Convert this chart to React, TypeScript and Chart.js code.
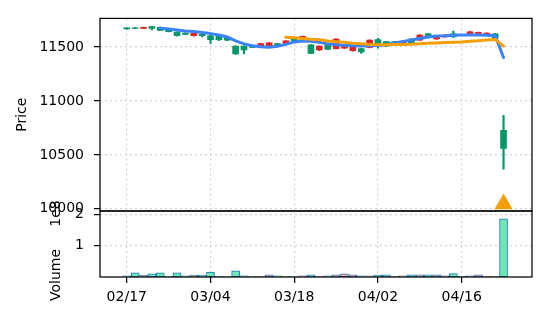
import React, { useEffect, useRef } from 'react';
import { Chart, registerables } from 'chart.js';

Chart.register(...registerables);

const W = 546;
const H = 322;
const FONT = 'DejaVu Sans';

// ---- data ----
const tickPositions = [0, 10, 20, 30, 40];
const tickLabels = ['02/17', '03/04', '03/18', '04/02', '04/16'];

const opens = [
  11669, 11673, 11684, 11673, 11655, 11642, 11605, 11618, 11630, 11605,
  11569, 11569, 11564, 11436, 11473, 11496, 11533, 11539, 11521, 11557,
  11557, 11600, 11442, 11509, 11478, 11575, 11509, 11509, 11455, 11564,
  11509, 11509, 11521, 11551, 11539, 11612, 11587, 11594, 11612, 11594,
  11608, 11642, 11636, 11630, 11582, 10560,
];
const highs = [
  11680, 11681, 11686, 11693, 11686, 11663, 11641, 11632, 11633, 11620,
  11608, 11603, 11585, 11512, 11512, 11511, 11536, 11542, 11535, 11560,
  11583, 11603, 11524, 11512, 11524, 11578, 11512, 11512, 11488, 11567,
  11582, 11554, 11554, 11554, 11578, 11615, 11627, 11597, 11615, 11648,
  11618, 11645, 11639, 11633, 11627, 10866,
];
const lows = [
  11667, 11671, 11671, 11660, 11652, 11640, 11602, 11615, 11602, 11594,
  11533, 11560, 11560, 11432, 11436, 11494, 11506, 11506, 11519, 11530,
  11555, 11572, 11440, 11466, 11475, 11482, 11488, 11463, 11442, 11493,
  11491, 11506, 11518, 11530, 11536, 11561, 11584, 11572, 11591, 11590,
  11605, 11615, 11615, 11609, 11579, 10369,
];
const closes = [
  11678, 11679, 11673, 11691, 11684, 11660, 11639, 11630, 11605, 11618,
  11605, 11600, 11582, 11509, 11509, 11509, 11509, 11509, 11533, 11533,
  11580, 11575, 11521, 11473, 11521, 11485, 11491, 11466, 11485, 11496,
  11569, 11551, 11551, 11533, 11575, 11564, 11624, 11575, 11594, 11624,
  11615, 11618, 11618, 11612, 11624, 10727,
];
// volume in units of 1e8
const volumes = [
  0.04, 0.13, 0.06, 0.10, 0.13, 0.02, 0.13, 0.04, 0.06, 0.06,
  0.16, 0.02, 0.01, 0.20, 0.04, 0.01, 0.01, 0.07, 0.04, 0.01,
  0.01, 0.04, 0.07, 0.02, 0.04, 0.07, 0.10, 0.07, 0.04, 0.04,
  0.06, 0.07, 0.01, 0.04, 0.07, 0.07, 0.07, 0.07, 0.04, 0.11,
  0.02, 0.04, 0.07, 0.02, 0.01, 1.86,
];
const maShort = [
  null, null, null, null, 11675, 11668, 11659, 11650, 11644, 11635,
  11625, 11612, 11594, 11557, 11530, 11512, 11503, 11498, 11507, 11525,
  11548, 11557, 11553, 11545, 11530, 11521, 11516, 11512, 11509, 11512,
  11515, 11525, 11539, 11553, 11566, 11580, 11594, 11603, 11605, 11609,
  11612, 11612, 11612, 11609, 11605, 11403,
];
const maLong = [
  null, null, null, null, null, null, null, null, null, null,
  null, null, null, null, null, null, null, null, null, 11591,
  11586, 11580, 11573, 11567, 11557, 11550, 11544, 11536, 11530, 11525,
  11521, 11521, 11523, 11525, 11527, 11532, 11536, 11539, 11543, 11545,
  11548, 11553, 11559, 11566, 11571, 11509,
];
const signalIndex = [45];
const signalPrice = [10045];

const priceTicks = [10000, 10500, 11000, 11500];
const volumeTicks = [1, 2];

// ---- styles ----
const GREEN = '#059669';
const RED = '#dc2626';
const VOL_UP = '#6ee7b7';
const VOL_DOWN = '#fca5a5';
const EDGE = '#1f77b4';
const BLUE = '#3b82f6';
const ORANGE = '#f59e0b';
const GRID = '#d4d4d4';
const X_MIN = -3.2;
const X_MAX = 48.4;

const boxPlugin = {
  id: 'box',
  afterDraw(chart: any) {
    const { ctx, chartArea: a } = chart;
    ctx.save();
    ctx.strokeStyle = '#000';
    ctx.lineWidth = 1.25;
    ctx.strokeRect(a.left, a.top, a.right - a.left, a.bottom - a.top);
    ctx.restore();
  },
};

const tickFont = { family: FONT, size: 14 };

export default function App() {
  const priceRef = useRef<HTMLCanvasElement>(null);
  const volRef = useRef<HTMLCanvasElement>(null);

  useEffect(() => {
    const idx = closes.map((_, i) => i);
    const isUp = (i: number) => closes[i] >= opens[i];
    const candleColors = idx.map((i) => (isUp(i) ? GREEN : RED));

    const priceChart = new Chart(priceRef.current as HTMLCanvasElement, {
      type: 'bar',
      data: {
        datasets: [
          {
            type: 'line',
            data: signalIndex.map((x, k) => ({ x, y: signalPrice[k] })),
            showLine: false,
            pointStyle: 'triangle',
            pointRadius: 10.5,
            pointBackgroundColor: ORANGE,
            pointBorderColor: ORANGE,
            pointBorderWidth: 0,
            order: 0,
            clip: false,
          } as any,
          {
            type: 'line',
            data: idx.filter((i) => maLong[i] != null).map((i) => ({ x: i, y: maLong[i] })),
            borderColor: ORANGE,
            borderWidth: 3,
            pointRadius: 0,
            borderJoinStyle: 'round',
            borderCapStyle: 'round',
            order: 1,
          } as any,
          {
            type: 'line',
            data: idx.filter((i) => maShort[i] != null).map((i) => ({ x: i, y: maShort[i] })),
            borderColor: BLUE,
            borderWidth: 3,
            pointRadius: 0,
            borderJoinStyle: 'round',
            borderCapStyle: 'round',
            order: 2,
          } as any,
          {
            type: 'bar',
            data: idx.map((i) => ({ x: i, y: [opens[i], closes[i]] })),
            backgroundColor: candleColors,
            borderWidth: 0,
            barThickness: 6,
            grouped: false,
            order: 3,
          } as any,
          {
            type: 'bar',
            data: idx.map((i) => ({ x: i, y: [lows[i], highs[i]] })),
            backgroundColor: candleColors,
            borderWidth: 0,
            barThickness: 1.5,
            grouped: false,
            order: 4,
          } as any,
        ],
      },
      options: {
        responsive: false,
        animation: false,
        layout: { padding: { top: 15, right: 14, bottom: 111, left: 0 } },
        plugins: { legend: { display: false }, tooltip: { enabled: false } },
        scales: {
          x: {
            type: 'linear',
            min: X_MIN,
            max: X_MAX,
            offset: false,
            afterBuildTicks: (s: any) => {
              s.ticks = tickPositions.map((v) => ({ value: v }));
            },
            afterFit: (s: any) => {
              s.height = 0;
            },
            ticks: { display: false },
            grid: { offset: false, color: GRID, lineWidth: 1.2, drawTicks: false },
            border: { display: false, dash: [2, 3] },
          },
          y: {
            type: 'linear',
            min: 9980,
            max: 11766,
            afterBuildTicks: (s: any) => {
              s.ticks = priceTicks.map((v) => ({ value: v }));
            },
            afterFit: (s: any) => {
              s.width = 100;
            },
            ticks: { color: '#000', font: tickFont, padding: 10, callback: (v: any) => String(v) },
            grid: { color: GRID, lineWidth: 1.2, tickColor: '#000', tickLength: 6, tickWidth: 1.25 },
            border: { display: false, dash: [2, 3] },
            title: {
              display: true,
              text: 'Price',
              color: '#000',
              font: tickFont,
              padding: { top: 13.6, bottom: 0 },
            },
          },
        },
      } as any,
      plugins: [boxPlugin],
    });

    const volChart = new Chart(volRef.current as HTMLCanvasElement, {
      type: 'bar',
      data: {
        datasets: [
          {
            data: idx.map((i) => ({ x: i, y: volumes[i] })),
            backgroundColor: idx.map((i) => (isUp(i) ? VOL_UP : VOL_DOWN)),
            borderColor: EDGE,
            borderWidth: 1,
            borderSkipped: false,
            barThickness: 8,
          } as any,
        ],
      },
      options: {
        responsive: false,
        animation: false,
        layout: { padding: { top: 211, right: 14, bottom: 0, left: 0 } },
        plugins: { legend: { display: false }, tooltip: { enabled: false } },
        scales: {
          x: {
            type: 'linear',
            min: X_MIN,
            max: X_MAX,
            offset: false,
            afterBuildTicks: (s: any) => {
              s.ticks = tickPositions.map((v) => ({ value: v }));
            },
            afterFit: (s: any) => {
              s.height = 45;
            },
            ticks: {
              color: '#000',
              font: tickFont,
              padding: 6,
              maxRotation: 0,
              autoSkip: false,
              callback: (v: any) => {
                const k = tickPositions.indexOf(Number(v));
                return k >= 0 ? tickLabels[k] : '';
              },
            },
            grid: { offset: false, color: GRID, lineWidth: 1.2, tickColor: '#000', tickLength: 6, tickWidth: 1.25 },
            border: { display: false, dash: [2, 3] },
          },
          y: {
            type: 'linear',
            min: 0,
            max: 2.11,
            afterBuildTicks: (s: any) => {
              s.ticks = volumeTicks.map((v) => ({ value: v }));
            },
            afterFit: (s: any) => {
              s.width = 100;
            },
            ticks: { color: '#000', font: tickFont, padding: 10, callback: (v: any) => String(v) },
            grid: { color: GRID, lineWidth: 1.2, tickColor: '#000', tickLength: 6, tickWidth: 1.25 },
            border: { display: false, dash: [2, 3] },
            title: {
              display: true,
              text: 'Volume     1e8   ',
              color: '#000',
              font: tickFont,
              padding: { top: 47.6, bottom: 0 },
            },
          },
        },
      } as any,
      plugins: [boxPlugin],
    });

    return () => {
      priceChart.destroy();
      volChart.destroy();
    };
  }, []);

  return (
    <div style={{ position: 'absolute', left: 0, top: 0, width: W, height: H, background: '#fff' }}>
      <canvas ref={priceRef} width={W} height={H} style={{ position: 'absolute', left: 0, top: 0 }} />
      <canvas ref={volRef} width={W} height={H} style={{ position: 'absolute', left: 0, top: 0 }} />
    </div>
  );
}
